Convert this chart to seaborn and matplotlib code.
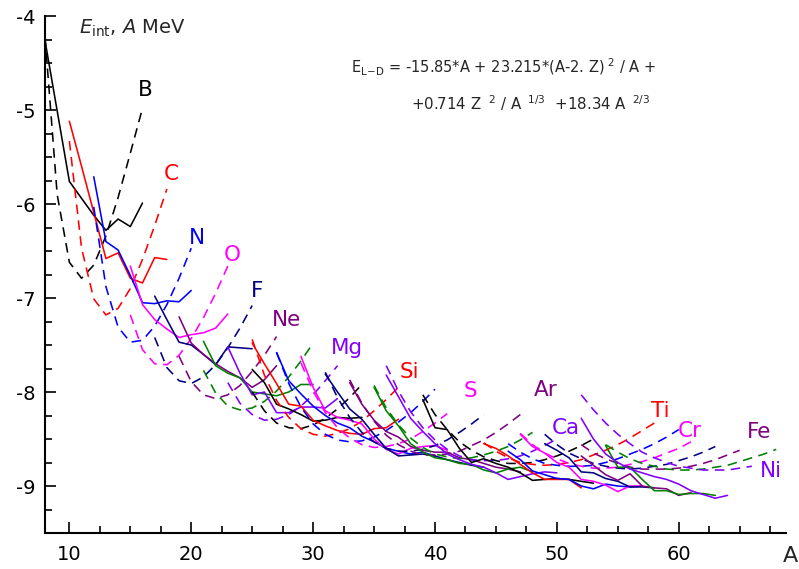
import matplotlib
matplotlib.use("Agg")
import matplotlib.pyplot as plt
import seaborn as sns
import pandas as pd
from matplotlib.ticker import MultipleLocator

# ---------------- data ----------------
elements = ["B", "C", "N", "O", "F", "Ne", "Na", "Mg", "Al", "Si", "P", "S", "Cl",
            "Ar", "K", "Ca", "Sc", "Ti", "V", "Cr", "Mn", "Fe", "Co", "Ni"]
color_cycle = ["#000000", "#ff0000", "#0000ff", "#ff00ff", "#000080", "#800080", "#008000", "#8000ff"]

B_exp_A = [8, 10, 11, 12, 13, 14, 15, 16]
B_exp = [-4.26, -5.76, -5.94, -6.12, -6.28, -6.16, -6.24, -5.99]
B_ld_A = list(range(8, 17))
B_ld = [-4.22, -5.90, -6.62, -6.79, -6.65, -6.34, -5.93, -5.46, -4.98]

C_A = list(range(10, 19))
C_exp = [-5.12, -5.60, -6.09, -6.58, -6.52, -6.79, -6.84, -6.57, -6.59]
C_ld = [-5.33, -6.47, -7.01, -7.18, -7.11, -6.90, -6.59, -6.23, -5.84]

N_A = list(range(12, 21))
N_exp = [-5.71, -6.40, -6.49, -6.76, -7.05, -7.06, -7.03, -7.04, -6.92]
N_ld = [-6.03, -6.88, -7.31, -7.47, -7.45, -7.30, -7.07, -6.79, -6.47]

O_A = list(range(15, 24))
O_exp = [-6.66, -7.07, -7.23, -7.33, -7.42, -7.39, -7.37, -7.32, -7.17]
O_ld = [-7.18, -7.55, -7.70, -7.71, -7.61, -7.43, -7.21, -6.95, -6.66]

F_A = list(range(17, 26))
F_exp = [-6.98, -7.23, -7.47, -7.50, -7.60, -7.71, -7.52, -7.53, -7.54]
F_ld = [-7.42, -7.74, -7.88, -7.91, -7.84, -7.71, -7.53, -7.32, -7.08]

Ne_A = list(range(19, 28))
Ne_exp = [-7.20, -7.48, -7.60, -7.70, -7.78, -7.85, -7.95, -7.87, -7.72]
Ne_ld = [-7.62, -7.89, -8.03, -8.07, -8.03, -7.93, -7.78, -7.61, -7.41]

Na_A = list(range(21, 31))
Na_exp = [-7.46, -7.72, -7.80, -7.85, -8.00, -8.02, -8.04, -8.00, -7.92, -7.92]
Na_ld = [-7.77, -8.01, -8.15, -8.19, -8.17, -8.10, -7.99, -7.84, -7.67, -7.48]

Mg_A = list(range(23, 33))
Mg_exp = [-7.52, -7.80, -8.03, -8.00, -8.22, -8.22, -8.16, -8.16, -8.17, -8.07]
Mg_ld = [-7.90, -8.12, -8.24, -8.30, -8.29, -8.24, -8.15, -8.03, -7.88, -7.72]

Al_A = list(range(25, 35))
Al_exp = [-7.76, -7.90, -8.13, -8.18, -8.24, -8.31, -8.30, -8.27, -8.28, -8.27]
Al_ld = [-8.00, -8.20, -8.33, -8.38, -8.39, -8.35, -8.28, -8.18, -8.06, -7.92]

Si_A = list(range(25, 38))
Si_exp = [-7.48, -7.70, -7.91, -8.13, -8.15, -8.30, -8.36, -8.41, -8.44, -8.45, -8.39, -8.38, -8.29]
Si_ld = [-7.44, -7.82, -8.09, -8.27, -8.39, -8.45, -8.47, -8.44, -8.39, -8.31, -8.20, -8.08, -7.95]

P_A = list(range(27, 41))
P_exp = [-7.58, -7.88, -8.02, -8.15, -8.25, -8.33, -8.38, -8.47, -8.53, -8.60, -8.63, -8.66, -8.64, -8.68]
P_ld = [-7.58, -7.91, -8.16, -8.34, -8.45, -8.51, -8.53, -8.52, -8.48, -8.41, -8.32, -8.22, -8.10, -7.97]

S_A = list(range(29, 42))
S_exp = [-7.62, -7.95, -8.20, -8.27, -8.30, -8.34, -8.50, -8.61, -8.66, -8.60, -8.58, -8.57, -8.62]
S_ld = [-7.69, -7.99, -8.22, -8.38, -8.49, -8.56, -8.59, -8.58, -8.55, -8.50, -8.42, -8.33, -8.23]

Cl_A = list(range(31, 45))
Cl_exp = [-7.81, -8.00, -8.18, -8.29, -8.45, -8.60, -8.68, -8.67, -8.66, -8.68, -8.72, -8.75, -8.78, -8.80]
Cl_ld = [-7.79, -8.06, -8.27, -8.43, -8.53, -8.60, -8.63, -8.63, -8.61, -8.57, -8.51, -8.43, -8.34, -8.24]

Ar_A = list(range(33, 48))
Ar_exp = [-7.90, -8.13, -8.30, -8.42, -8.48, -8.58, -8.62, -8.64, -8.64, -8.70, -8.72, -8.76, -8.80, -8.82, -8.85]
Ar_ld = [-7.87, -8.12, -8.31, -8.46, -8.56, -8.63, -8.67, -8.67, -8.66, -8.63, -8.57, -8.51, -8.43, -8.34, -8.24]

K_A = list(range(35, 49))
K_exp = [-7.95, -8.20, -8.36, -8.55, -8.64, -8.70, -8.72, -8.76, -8.77, -8.83, -8.86, -8.82, -8.80, -8.85]
K_ld = [-7.93, -8.17, -8.35, -8.49, -8.59, -8.66, -8.69, -8.71, -8.70, -8.67, -8.63, -8.58, -8.51, -8.43]

Ca_A = list(range(36, 51))
Ca_exp = [-7.82, -8.05, -8.28, -8.42, -8.55, -8.66, -8.72, -8.77, -8.80, -8.86, -8.93, -8.90, -8.87, -8.85, -8.86]
Ca_ld = [-7.72, -7.99, -8.21, -8.38, -8.51, -8.61, -8.68, -8.72, -8.73, -8.73, -8.71, -8.68, -8.63, -8.57, -8.50]

Sc_A = list(range(39, 54))
Sc_exp = [-8.08, -8.38, -8.40, -8.60, -8.75, -8.71, -8.76, -8.80, -8.86, -8.94, -8.93, -8.92, -8.93, -8.95, -8.97]
Sc_ld = [-8.03, -8.24, -8.40, -8.53, -8.62, -8.69, -8.73, -8.76, -8.76, -8.75, -8.72, -8.68, -8.63, -8.57, -8.50]

Ti_exp_A = list(range(44, 53))
Ti_exp = [-8.55, -8.60, -8.68, -8.77, -8.86, -8.93, -8.93, -8.93, -9.02]
Ti_ld_A = list(range(44, 59))
Ti_ld = [-8.54, -8.63, -8.70, -8.75, -8.77, -8.78, -8.77, -8.75, -8.72, -8.67, -8.62, -8.56, -8.49, -8.41, -8.33]

V_exp_A = list(range(46, 58))
V_exp = [-8.63, -8.72, -8.84, -8.88, -8.92, -8.93, -9.00, -9.03, -8.98, -9.00, -9.01, -9.00]
V_ld_A = list(range(46, 61))
V_ld = [-8.55, -8.64, -8.71, -8.76, -8.78, -8.79, -8.79, -8.78, -8.75, -8.71, -8.66, -8.61, -8.55, -8.48, -8.40]

Cr_exp_A = list(range(47, 58))
Cr_exp = [-8.45, -8.58, -8.65, -8.75, -8.80, -8.93, -8.95, -8.99, -9.06, -9.00, -9.00]
Cr_ld_A = list(range(47, 62))
Cr_ld = [-8.44, -8.56, -8.65, -8.71, -8.76, -8.79, -8.81, -8.81, -8.80, -8.77, -8.74, -8.70, -8.65, -8.60, -8.53]

Mn_exp_A = list(range(49, 59))
Mn_exp = [-8.55, -8.62, -8.70, -8.85, -8.86, -8.92, -8.95, -9.01, -9.01, -9.02]
Mn_ld_A = list(range(49, 64))
Mn_ld = [-8.45, -8.56, -8.65, -8.71, -8.76, -8.79, -8.81, -8.82, -8.81, -8.79, -8.77, -8.73, -8.69, -8.64, -8.58]

Fe_exp_A = list(range(52, 62))
Fe_exp = [-8.68, -8.78, -8.88, -8.94, -8.87, -9.00, -9.02, -9.03, -9.10, -9.07]
Fe_ld_A = list(range(52, 66))
Fe_ld = [-8.56, -8.65, -8.71, -8.76, -8.80, -8.82, -8.82, -8.82, -8.81, -8.79, -8.76, -8.72, -8.67, -8.62]

Co_exp_A = list(range(54, 64))
Co_exp = [-8.57, -8.80, -8.80, -8.93, -9.05, -9.05, -9.09, -9.08, -9.08, -9.10]
Co_ld_A = list(range(54, 69))
Co_ld = [-8.56, -8.64, -8.71, -8.76, -8.79, -8.82, -8.83, -8.83, -8.82, -8.80, -8.78, -8.74, -8.70, -8.66, -8.61]

Ni_exp_A = list(range(52, 65))
Ni_exp = [-8.28, -8.50, -8.66, -8.75, -8.82, -8.86, -8.90, -8.93, -8.98, -9.05, -9.09, -9.13, -9.10]
Ni_ld_A = list(range(52, 67))
Ni_ld = [-8.03, -8.19, -8.33, -8.45, -8.55, -8.64, -8.70, -8.75, -8.79, -8.81, -8.83, -8.83, -8.83, -8.81, -8.79]

# label text positions (A, E) for the named elements
label_names = ["B", "C", "N", "O", "F", "Ne", "Mg", "Si", "S", "Ar", "Ca", "Ti", "Cr", "Fe", "Ni"]
label_A = [16.2, 18.4, 20.5, 23.4, 25.4, 27.8, 32.8, 37.9, 42.9, 49.1, 50.7, 58.5, 60.9, 66.6, 67.6]
label_E = [-4.79, -5.68, -6.36, -6.54, -6.93, -7.23, -7.53, -7.79, -7.99, -7.98, -8.38, -8.20, -8.42, -8.43, -8.84]

# ---------------- assemble ----------------
g = globals()
rows = []
for el in elements:
    exp_A = g.get(el + "_exp_A", g.get(el + "_A"))
    ld_A = g.get(el + "_ld_A", g.get(el + "_A"))
    exp_E = g[el + "_exp"]
    ld_E = g[el + "_ld"]
    assert len(exp_A) == len(exp_E), el
    assert len(ld_A) == len(ld_E), el
    for a, e in zip(ld_A, ld_E):
        rows.append((el, "ld", a, e))
    for a, e in zip(exp_A, exp_E):
        rows.append((el, "exp", a, e))
df = pd.DataFrame(rows, columns=["elem", "kind", "A", "E"])
palette = {el: color_cycle[i % 8] for i, el in enumerate(elements)}

# ---------------- plot ----------------
sns.set_style("ticks")
plt.rcParams["font.family"] = ["DejaVu Sans"]
plt.rcParams["mathtext.fontset"] = "dejavusans"
plt.rcParams["axes.unicode_minus"] = False

fig = plt.figure(figsize=(7.99, 5.69), dpi=100)
ax = fig.add_axes([45 / 799, 1 - 533 / 569, (786 - 45) / 799, (533 - 16) / 569])

sns.lineplot(data=df, x="A", y="E", hue="elem", style="kind", palette=palette,
             dashes={"exp": "", "ld": (6, 4)}, estimator=None, sort=False,
             legend=False, linewidth=1.15, ax=ax)

ax.set_xlim(8, 68.8)
ax.set_ylim(-9.5, -4.0)
ax.xaxis.set_major_locator(MultipleLocator(10))
ax.xaxis.set_minor_locator(MultipleLocator(2.5))
ax.yaxis.set_major_locator(MultipleLocator(1))
ax.yaxis.set_minor_locator(MultipleLocator(0.25))
ax.tick_params(which="both", direction="in", width=1.2, colors="black", labelsize=14)
ax.tick_params(which="major", length=8)
ax.tick_params(which="minor", length=5)
ax.tick_params(axis="x", pad=9)
ax.tick_params(axis="y", pad=7)
for s in ["top", "right"]:
    ax.spines[s].set_visible(False)
for s in ["left", "bottom"]:
    ax.spines[s].set_linewidth(1.5)
    ax.spines[s].set_color("black")
ax.set_xlabel("")
ax.set_ylabel("")

for name, a, e in zip(label_names, label_A, label_E):
    ax.text(a, e, name, color=palette[name], fontsize=15.5, ha="center", va="center")

ax.text(10.8, -4.13, r"$E_{\mathrm{int}}$, $A$ MeV", fontsize=14, ha="left", va="center")
ax.text(33.1, -4.55, r"E$_{\mathrm{L\!-\!D}}$ = -15.85*A + 23.215*(A-2. Z)$^{\ 2}$ / A +",
        fontsize=10.5, ha="left", va="center")
ax.text(38.0, -4.93, r"+0.714 Z $^{\ 2}$ / A$^{\ \ 1/3}$  +18.34 A$^{\ \ 2/3}$",
        fontsize=10.8, ha="left", va="center")
fig.text(790 / 799, 1 - 556 / 569, "A", fontsize=16, ha="center", va="center")

fig.savefig("out.png", dpi=100)
